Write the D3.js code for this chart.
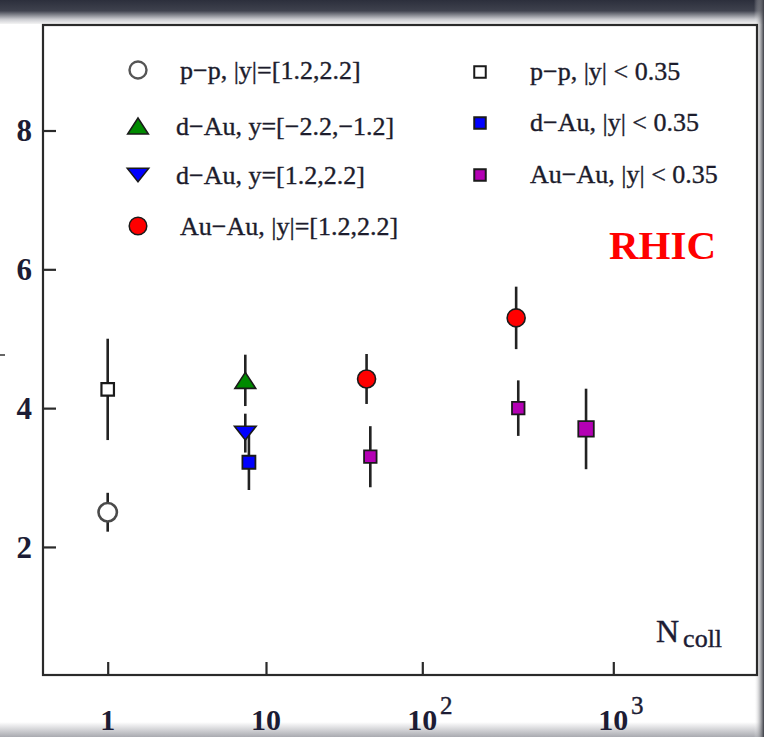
<!DOCTYPE html>
<html><head><meta charset="utf-8">
<script src="https://cdn.jsdelivr.net/npm/d3@7"></script>
<style>body{margin:0;background:#fff} svg{display:block}</style>
</head><body><svg id="c" width="764" height="737"></svg>
<script>
// ---- data ----
const yTickValues = [2, 4, 6, 8];
const xTickValues = [1, 10, 100, 1000];
const xTickBase = ["1", "10", "10", "10"];
const xTickExp = ["", "", "2", "3"];

// p-p, |y|=[1.2,2.2]  (open circle)
const ppFwdN = [1],        ppFwdV = [2.5],        ppFwdE = [0.28];
// d-Au, y=[-2.2,-1.2]  (green up triangle)
const dAuBwdN = [7.4],     dAuBwdV = [4.4],       dAuBwdE = [0.37];
// d-Au, y=[1.2,2.2]  (blue down triangle)
const dAuFwdN = [7.4],     dAuFwdV = [3.64],      dAuFwdE = [0.28];
// Au-Au, |y|=[1.2,2.2]  (red circle)
const AuAuFwdN = [44, 310], AuAuFwdV = [4.42, 5.3], AuAuFwdE = [0.36, 0.45];
// p-p, |y|<0.35  (open square)
const ppMidN = [1],        ppMidV = [4.27],       ppMidE = [0.73];
// d-Au, |y|<0.35  (blue square)
const dAuMidN = [7.8],     dAuMidV = [3.22],      dAuMidE = [0.4];
// Au-Au, |y|<0.35  (magenta square)
const AuAuMidN = [46.5, 318, 720], AuAuMidV = [3.3, 4.0, 3.7], AuAuMidE = [0.44, 0.4, 0.58];

const legendLeft = ["p\u2212p, |y|=[1.2,2.2]", "d\u2212Au, y=[\u22122.2,\u22121.2]", "d\u2212Au, y=[1.2,2.2]", "Au\u2212Au, |y|=[1.2,2.2]"];
const legendRight = ["p\u2212p, |y| < 0.35", "d\u2212Au, |y| < 0.35", "Au\u2212Au, |y| < 0.35"];

// ---- drawing ----
const svg = d3.select("#c");
const W = 764, H = 737;
const L = 43, T = 25, R = 757, B = 675;
const serif = "'Liberation Serif','Times New Roman',serif";

const defs = svg.append("defs");
const gTop = defs.append("linearGradient").attr("id", "gTop").attr("x1", 0).attr("y1", 0).attr("x2", 0).attr("y2", 1);
gTop.append("stop").attr("offset", "0").attr("stop-color", "#2c2f3c");
gTop.append("stop").attr("offset", "0.45").attr("stop-color", "#3f424e");
gTop.append("stop").attr("offset", "0.8").attr("stop-color", "#c9cacf");
gTop.append("stop").attr("offset", "1").attr("stop-color", "#f4f4f4");
const gBot = defs.append("linearGradient").attr("id", "gBot").attr("x1", 0).attr("y1", 0).attr("x2", 0).attr("y2", 1);
gBot.append("stop").attr("offset", "0").attr("stop-color", "#ffffff");
gBot.append("stop").attr("offset", "1").attr("stop-color", "#a9aab0");
const gR = defs.append("linearGradient").attr("id", "gR").attr("x1", 0).attr("y1", 0).attr("x2", 1).attr("y2", 0);
gR.append("stop").attr("offset", "0").attr("stop-color", "#ffffff").attr("stop-opacity", 0);
gR.append("stop").attr("offset", "1").attr("stop-color", "#3a3c44");

svg.append("rect").attr("width", W).attr("height", H).attr("fill", "#fff");
svg.append("rect").attr("x", 0).attr("y", 0).attr("width", W).attr("height", 24).attr("fill", "url(#gTop)");
svg.append("rect").attr("x", 0).attr("y", 722).attr("width", W).attr("height", 15).attr("fill", "url(#gBot)");
svg.append("rect").attr("x", 754).attr("y", 0).attr("width", 10).attr("height", H).attr("fill", "url(#gR)");

const yScale = d3.scaleLinear().domain([0.155, 9.52]).range([B, T]);
const xLin = d3.scaleLinear().domain([0, 1, 2, 3]).range([107.7, 266, 422.3, 613.3]);
const x = n => xLin(Math.log10(n));

// plot area
svg.append("rect").attr("x", L).attr("y", T).attr("width", R - L).attr("height", B - T)
  .attr("fill", "#fff").attr("stroke", "#2a2a2a").attr("stroke-width", 2.2);

// axes (ticks pointing inward)
const yAxis = d3.axisLeft(yScale).tickValues(yTickValues).tickSize(-13).tickFormat("");
const gy = svg.append("g").attr("transform", `translate(${L},0)`).call(yAxis);
gy.select(".domain").remove();
gy.selectAll(".tick line").attr("stroke", "#2a2a2a").attr("stroke-width", 2.2);

const xAxis = d3.axisBottom(xLin).tickValues(xTickValues.map(Math.log10)).tickSize(-13).tickFormat("");
const gx = svg.append("g").attr("transform", `translate(0,${B})`).call(xAxis);
gx.select(".domain").remove();
gx.selectAll(".tick line").attr("stroke", "#2a2a2a").attr("stroke-width", 2.2);

// y tick labels
svg.append("g").selectAll("text").data(yTickValues).join("text")
  .attr("x", 32).attr("y", d => yScale(d)).attr("dy", "0.35em")
  .attr("text-anchor", "end").attr("font-family", serif).attr("font-weight", "bold")
  .attr("font-size", 31).attr("fill", "#1c1c34").text(d => d);

// x tick labels
xTickValues.forEach((v, i) => {
  svg.append("text").attr("x", x(v)).attr("y", 730).attr("text-anchor", "middle")
    .attr("font-family", serif).attr("font-weight", "bold").attr("font-size", 30)
    .attr("fill", "#1c1c34").text(xTickBase[i]);
  if (xTickExp[i]) {
    svg.append("text").attr("x", x(v) + 24).attr("y", 714).attr("text-anchor", "middle")
      .attr("font-family", serif).attr("font-size", 25).attr("fill", "#1c1c34")
      .attr("stroke", "#1c1c34").attr("stroke-width", 0.4).text(xTickExp[i]);
  }
});

// N_coll label
const nl = svg.append("text").attr("x", 656).attr("y", 642).attr("font-family", serif)
  .attr("fill", "#1c1c34").attr("stroke", "#1c1c34").attr("stroke-width", 0.4);
nl.append("tspan").attr("font-size", 32).text("N");
nl.append("tspan").attr("font-size", 26).attr("dx", 4).attr("dy", 5).text("coll");

// RHIC
svg.append("text").attr("x", 609).attr("y", 259).attr("font-family", serif).attr("font-weight", "bold")
  .attr("font-size", 41).attr("fill", "#ff0000").text("RHIC");

// stray mark of cut-off axis title
svg.append("line").attr("x1", 0).attr("x2", 5).attr("y1", 355).attr("y2", 355).attr("stroke", "#666").attr("stroke-width", 2);

// ---- markers ----
const shapes = {
  circle: r => `M${-r},0A${r},${r} 0 1,0 ${r},0A${r},${r} 0 1,0 ${-r},0Z`,
  square: s => `M${-s/2},${-s/2}H${s/2}V${s/2}H${-s/2}Z`,
  up: s => `M0,${-s*0.4}L${s*0.52},${s*0.4}L${-s*0.52},${s*0.4}Z`,
  down: s => `M0,${s*0.34}L${s*0.54},${-s*0.34}L${-s*0.54},${-s*0.34}Z`
};

const plot = svg.append("g");
function series(N, V, E) {
  const data = N.map((n, i) => ({ n, v: V[i], e: E[i] }));
  plot.append("g").selectAll("line").data(data).join("line")
    .attr("x1", d => x(d.n)).attr("x2", d => x(d.n))
    .attr("y1", d => yScale(d.v + d.e)).attr("y2", d => yScale(d.v - d.e))
    .attr("stroke", "#222").attr("stroke-width", 2.6);
  return data;
}
function marks(data, shape, size, fill, stroke, sw) {
  plot.append("g").selectAll("path").data(data).join("path")
    .attr("transform", d => `translate(${x(d.n)},${yScale(d.v)})`)
    .attr("d", shapes[shape](size)).attr("fill", fill).attr("stroke", stroke).attr("stroke-width", sw);
}

const sPPf = series(ppFwdN, ppFwdV, ppFwdE);
const sDb = series(dAuBwdN, dAuBwdV, dAuBwdE);
const sDf = series(dAuFwdN, dAuFwdV, dAuFwdE);
const sAf = series(AuAuFwdN, AuAuFwdV, AuAuFwdE);
const sPPm = series(ppMidN, ppMidV, ppMidE);
const sDm = series(dAuMidN, dAuMidV, dAuMidE);
const sAm = series(AuAuMidN, AuAuMidV, AuAuMidE);

marks(sPPf, "circle", 9.2, "#fff", "#4a4a4a", 2.6);
marks(sDb, "up", 20, "#008a00", "#1a1a1a", 1.6);
marks(sDm, "square", 13, "#0000ff", "#1a1a1a", 1.8);
marks(sDf, "down", 20, "#0000ff", "#1a1a1a", 1.6);
marks(sAf, "circle", 9, "#ff0000", "#1a1a1a", 1.6);
marks(sPPm, "square", 12.5, "#fff", "#1a1a1a", 2.2);
plot.append("g").selectAll("path").data(sAm).join("path")
  .attr("transform", d => `translate(${x(d.n)},${yScale(d.v)})`)
  .attr("d", (d, i) => shapes.square(i === 2 ? 15.5 : 12.5))
  .attr("fill", "#b400b4").attr("stroke", "#1a1a1a").attr("stroke-width", 1.8);

// ---- legend ----
const legL = svg.append("g");
const leftY = [70, 126, 175, 226];
const leftShapes = [["circle", 8.5, "#fff", "#555", 2.4], ["up", 20, "#008a00", "#1a1a1a", 1.5], ["down", 20, "#0000ff", "#1a1a1a", 1.5], ["circle", 8.8, "#ff0000", "#1a1a1a", 1.5]];
const leftTextX = [180, 176, 176, 180];
legendLeft.forEach((t, i) => {
  const s = leftShapes[i];
  legL.append("path").attr("transform", `translate(138,${leftY[i]})`).attr("d", shapes[s[0]](s[1]))
    .attr("fill", s[2]).attr("stroke", s[3]).attr("stroke-width", s[4]);
  legL.append("text").attr("x", leftTextX[i]).attr("y", leftY[i]).attr("dy", "0.33em")
    .attr("font-family", serif).attr("font-size", 26).attr("fill", "#1c1c2c")
    .attr("stroke", "#1c1c2c").attr("stroke-width", 0.35).text(t);
});
const rightY = [72, 123, 175];
const rightFill = ["#fff", "#0000ff", "#b400b4"];
legendRight.forEach((t, i) => {
  legL.append("path").attr("transform", `translate(480,${rightY[i]})`).attr("d", shapes.square(11.5))
    .attr("fill", rightFill[i]).attr("stroke", "#1a1a1a").attr("stroke-width", 2);
  legL.append("text").attr("x", 530).attr("y", rightY[i] - 1).attr("dy", "0.33em")
    .attr("font-family", serif).attr("font-size", 26).attr("fill", "#1c1c2c")
    .attr("stroke", "#1c1c2c").attr("stroke-width", 0.35).text(t);
});
</script></body></html>
